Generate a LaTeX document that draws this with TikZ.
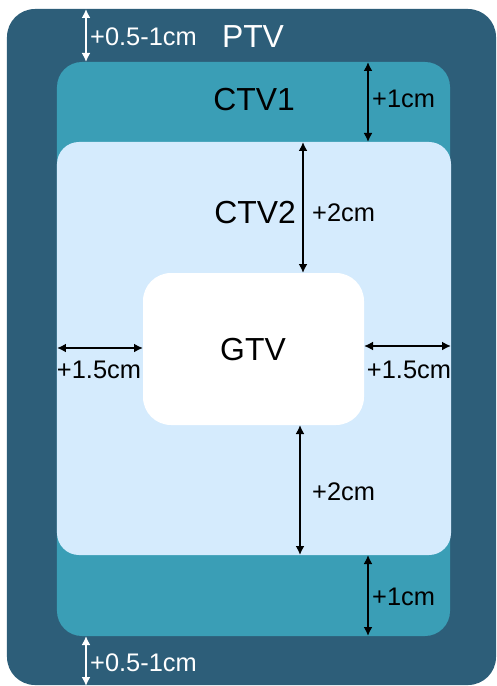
\documentclass[tikz,border=0pt]{standalone}
\usepackage{fontspec}
\setmainfont{Liberation Sans}
\usetikzlibrary{arrows.meta}
\definecolor{ptvc}{HTML}{2D5E79}
\definecolor{ctvac}{HTML}{3A9EB6}
\definecolor{ctvbc}{HTML}{D5EBFD}
\begin{document}
\begin{tikzpicture}[x=1bp,y=-1bp,
  zone/.style={draw=none,inner sep=0pt,outer sep=0pt},
  meas/.style={line width=2.6bp,{Latex[length=9bp,width=9bp]}-{Latex[length=9bp,width=9bp]}},
  small/.style={inner sep=0pt,font=\fontsize{25.5}{28}\selectfont},
  big/.style={inner sep=0pt,font=\fontsize{32}{36}\selectfont}]
\useasboundingbox (0,0) rectangle (497,686);
\fill[white] (0,0) rectangle (497,686);
\node[zone,fill=ptvc,rounded corners=28bp,minimum width=489bp,minimum height=676bp] (ptv) at (251.5,347) {};
\node[zone,fill=ctvac,rounded corners=25bp,minimum width=393bp,minimum height=574bp] (ctv1) at (253.5,349) {};
\node[zone,fill=ctvbc,rounded corners=22bp,minimum width=394bp,minimum height=413bp] (ctv2) at (254,348.5) {};
\node[zone,fill=white,rounded corners=28bp,minimum width=221bp,minimum height=152bp] (gtv) at (253.5,349) {};
% arrow positions
\coordinate (xw) at (86,0);
\coordinate (xa) at (368,0);
\coordinate (xb) at (303,0);
\coordinate (xc) at (300,0);
\coordinate (yl) at (0,348);
\coordinate (yr) at (0,346);
% white arrows
\draw[meas,white] (ptv.north -| xw) -- (ctv1.north -| xw);
\draw[meas,white] (ctv1.south -| xw) -- ([yshift=-1bp]ptv.south -| xw);
% black arrows
\draw[meas] (ctv1.north -| xa) -- (ctv2.north -| xa);
\draw[meas] (ctv2.south -| xa) -- (ctv1.south -| xa);
\draw[meas] (ctv2.north -| xb) -- (gtv.north -| xb);
\draw[meas] (gtv.south -| xc) -- (ctv2.south -| xc);
\draw[meas] (ctv2.west |- yl) -- (gtv.west |- yl);
\draw[meas] (gtv.east |- yr) -- (ctv2.east |- yr);
% labels
\node[small,white,anchor=west] (lpt) at (90,37) {+0.5-1cm};
\node[small,white,anchor=west] (lpb) at (90,663) {+0.5-1cm};
\node[big,white] (tptv) at (253,37) {PTV};
\node[big] (tctv1) at (254,100) {CTV1};
\node[big] (tctv2) at (255,213) {CTV2};
\node[big] (tgtv) at (253,350) {GTV};
\node[small,anchor=west] (l1t) at (372,99) {+1cm};
\node[small,anchor=west] (l1b) at (372,597) {+1cm};
\node[small,anchor=west] (l2t) at (312,213) {+2cm};
\node[small,anchor=west] (l2b) at (312,492) {+2cm};
\node[small] (l15l) at (99,370) {+1.5cm};
\node[small] (l15r) at (409,370) {+1.5cm};
\end{tikzpicture}
\end{document}
